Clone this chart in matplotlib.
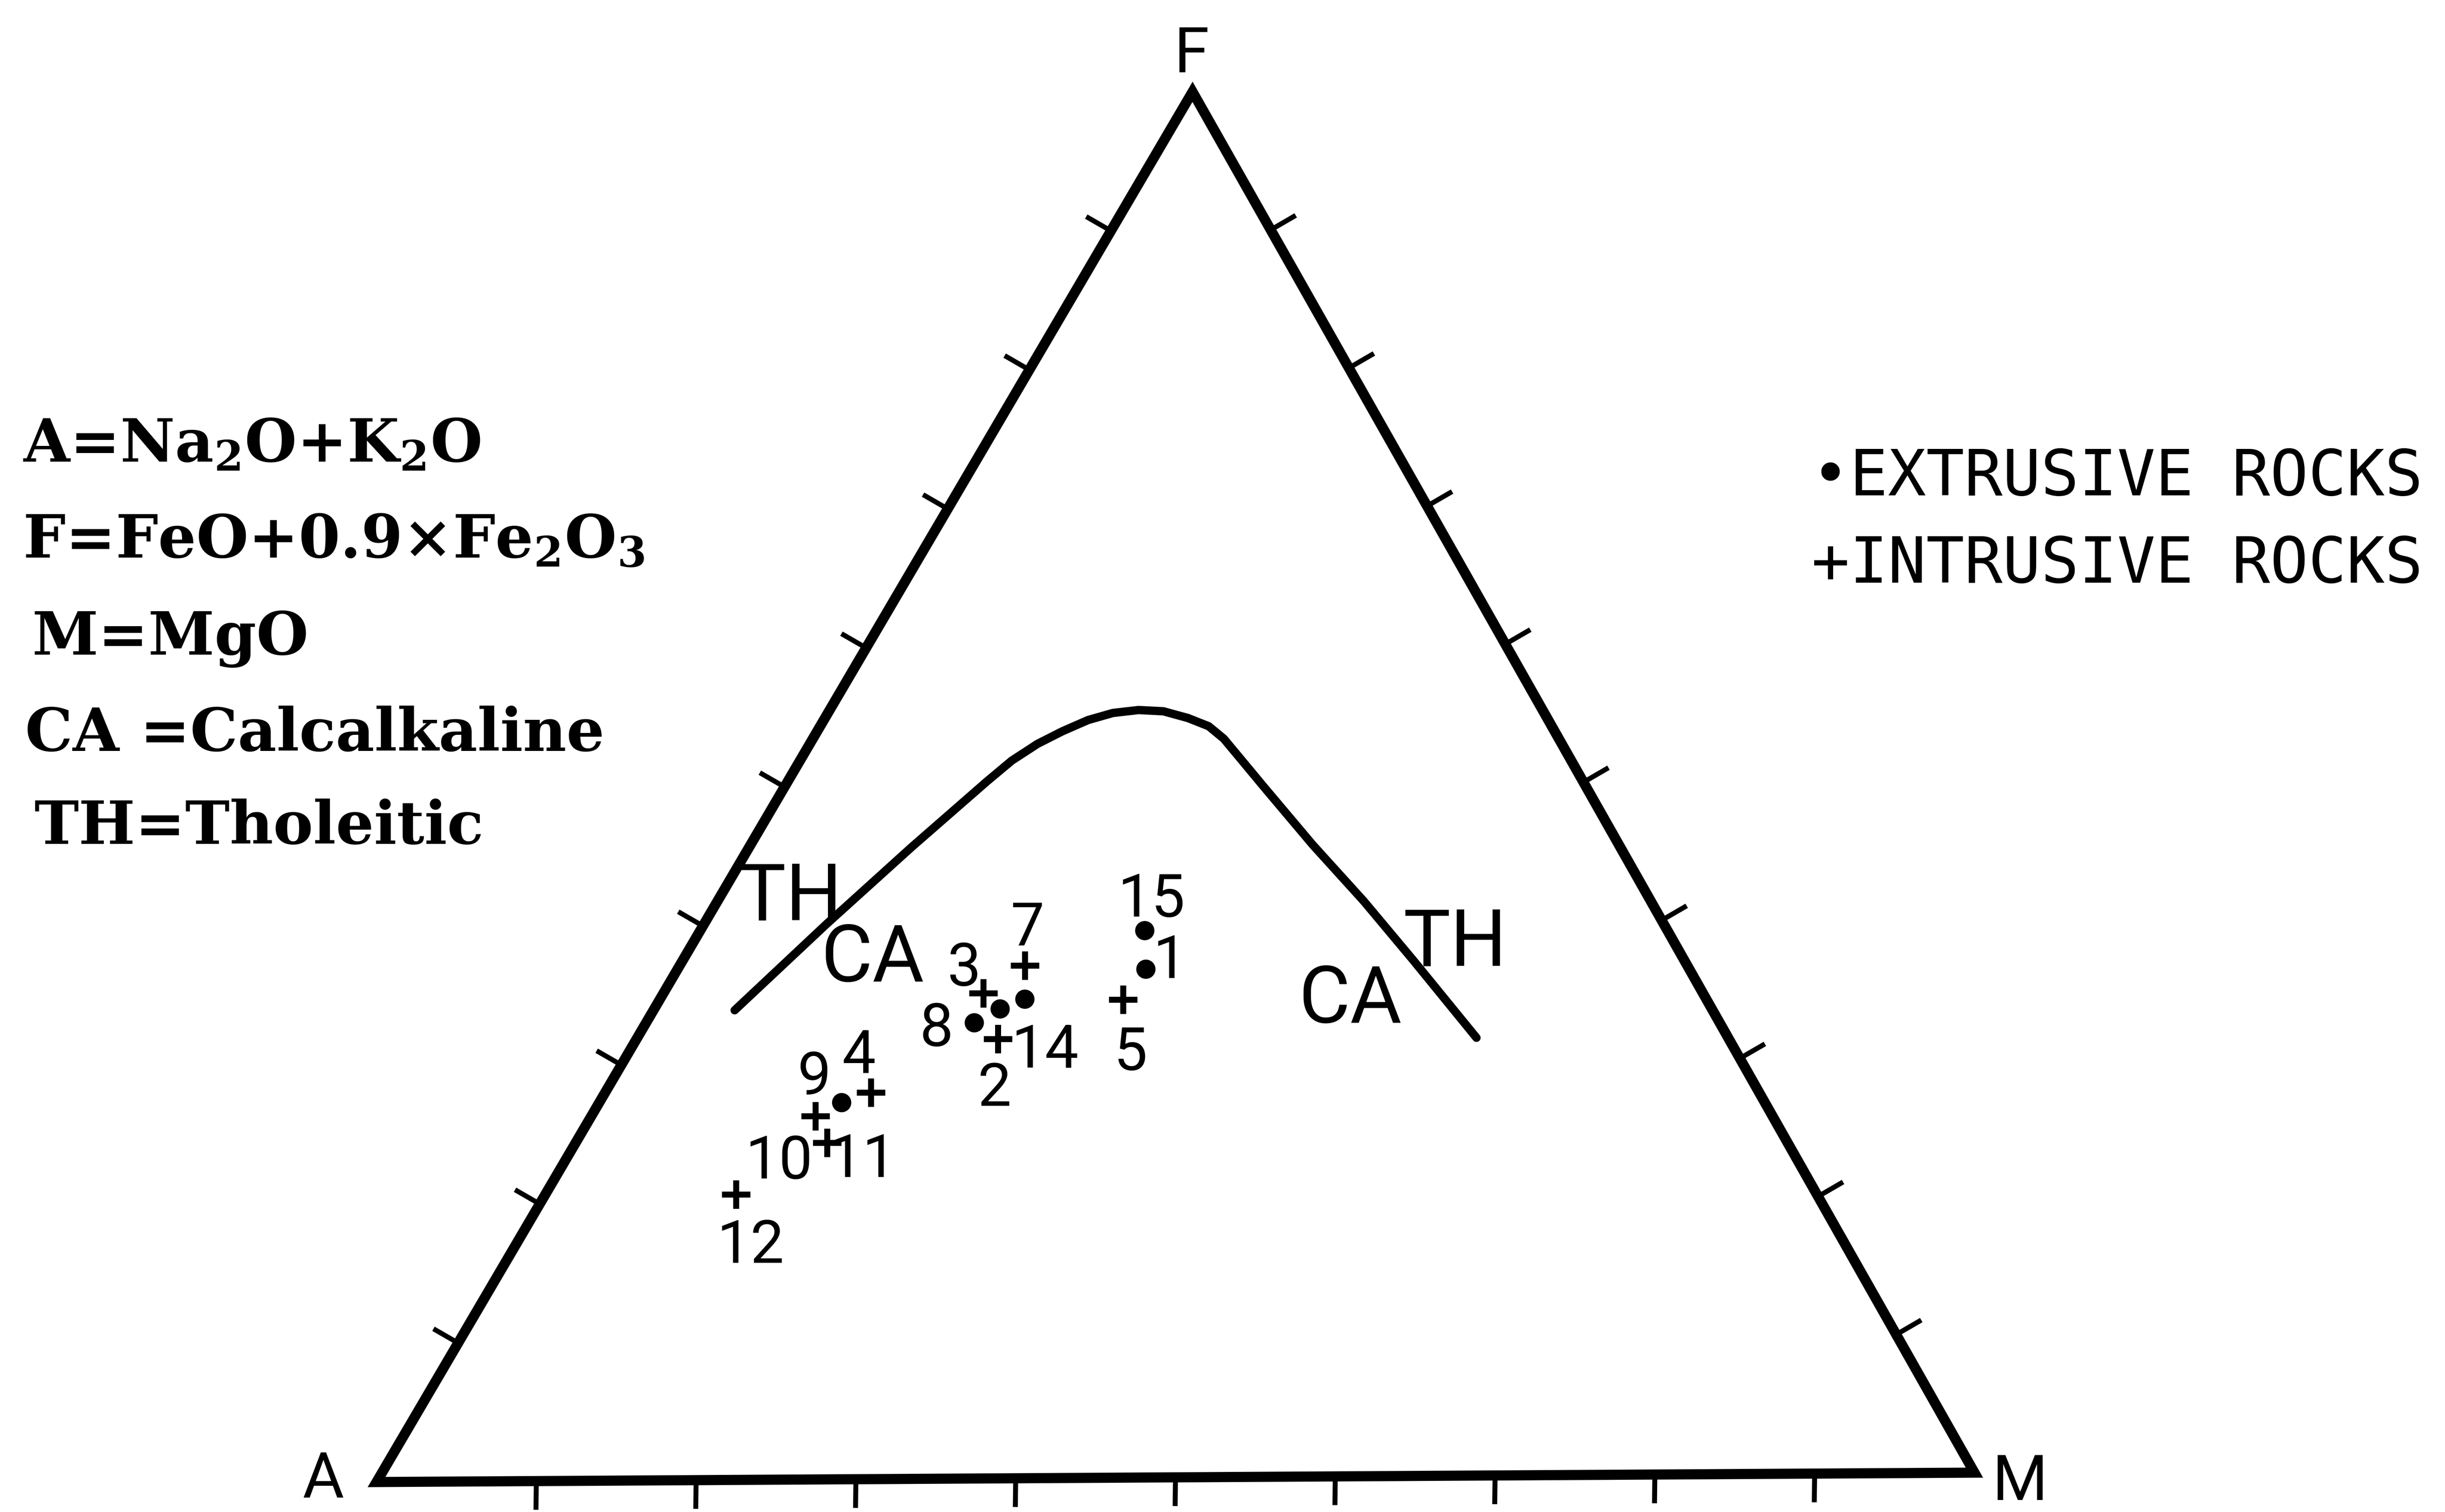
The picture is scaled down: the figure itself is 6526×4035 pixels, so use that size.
import numpy as np
import matplotlib
matplotlib.use('Agg')
import matplotlib.pyplot as plt
from matplotlib.patches import Polygon
from matplotlib.transforms import Affine2D

# AFM ternary diagram: samples (% A, F, M)
sample_label = ['1', '2', '3', '4', '5', '', '7', '8', '9', '10', '11', '12', '14', '15']
rock_kind = ['E', 'I', 'I', 'I', 'I', 'E', 'I', 'E', 'E', 'I', 'I', 'I', 'E', 'E']  # E extrusive, I intrusive
A_pct = [33.9, 45.6, 44.9, 55.4, 36.4, 44.4, 41.3, 46.5, 57.6, 59.7, 59.9, 67.4, 42.5, 32.6]
F_pct = [36.7, 31.7, 35.0, 27.9, 34.5, 33.9, 37.0, 32.9, 27.2, 26.2, 24.3, 20.6, 34.6, 39.5]
M_pct = [29.4, 22.7, 20.1, 16.7, 29.1, 21.7, 21.7, 20.6, 15.2, 14.1, 15.8, 12.0, 22.9, 27.9]

# tholeiitic / calc-alkaline boundary
curve_A = [61.0, 52.2, 44.2, 37.2, 34.9, 32.7, 30.7, 28.7, 26.9, 25.2,
           23.7, 22.4, 21.4, 20.9, 20.6, 20.1, 19.1, 17.9, 16.9, 15.7]
curve_F = [33.9, 40.1, 45.6, 50.3, 51.8, 53.0, 53.9, 54.7, 55.2, 55.4,
           55.3, 54.8, 54.2, 53.3, 52.0, 49.8, 45.6, 41.5, 37.2, 31.6]
curve_M = [5.1, 7.7, 10.2, 12.5, 13.3, 14.3, 15.4, 16.6, 17.9, 19.4,
           21.0, 22.8, 24.4, 25.8, 27.4, 30.1, 35.3, 40.6, 45.9, 52.7]

tick_frac = [0.1, 0.2, 0.3, 0.4, 0.5, 0.6, 0.7, 0.8, 0.9]

legend_left = [r'A=Na$_2$O+K$_2$O', r'F=FeO+0.9×Fe$_2$O$_3$', 'M=MgO',
               'CA =Calcalkaline', 'TH=Tholeitic']
legend_right = ['•EXTRUSIVE ROCKS', '+INTRUSIVE ROCKS']

# label placement relative to the marker, pixels (right, down)
label_shift = {'1': (64, 24), '2': (-9, 178), '3': (-51, -21), '4': (-32, -52),
               '5': (20, 187), '7': (6, -54), '8': (-101, 62), '9': (-73, -21),
               '10': (-98, 166), '11': (94, 91), '12': (38, 182), '14': (54, 183),
               '15': (18, -37)}

W, H, DPI = 6526, 4035, 100
lettering = ['Roboto', 'DejaVu Sans']
plt.rcParams['mathtext.default'] = 'regular'

SQ3 = np.sqrt(3) / 2


def to_xy(a, f, m):
    a, f, m = np.asarray(a, float), np.asarray(f, float), np.asarray(m, float)
    s = a + f + m
    return (m + f / 2) / s, (f * SQ3) / s


fig = plt.figure(figsize=(W / DPI, H / DPI), dpi=DPI)
ax = fig.add_axes([0, 0, 1, 1])
ax.set_xlim(0, W)
ax.set_ylim(H, 0)
ax.axis('off')

# triangle corners on the page (pixels), unit triangle -> page
A_px = np.array([1005., 3955.])
M_px = np.array([5270., 3930.])
F_px = np.array([3183., 245.])
e1 = M_px - A_px
e2 = (F_px - A_px - 0.5 * e1) / SQ3
tern = Affine2D.from_values(e1[0], e1[1], e2[0], e2[1], A_px[0], A_px[1]) + ax.transData

ax.add_patch(Polygon([(0, 0), (1, 0), (0.5, SQ3)], closed=True, fill=False,
                     ec='black', lw=19.5, joinstyle='miter', transform=tern))

L = 70 / 4267
for t in tick_frac:
    ax.plot([t, t], [0, -L], c='k', lw=9.5, transform=tern)
    x0, y0 = 0.5 * t, SQ3 * t
    ax.plot([x0, x0 - SQ3 * L], [y0, y0 + 0.5 * L], c='k', lw=9.5, transform=tern)
    x0, y0 = 1 - 0.5 * t, SQ3 * t
    ax.plot([x0, x0 + SQ3 * L], [y0, y0 + 0.5 * L], c='k', lw=9.5, transform=tern)

cx, cy = to_xy(curve_A, curve_F, curve_M)
ax.plot(cx, cy, c='k', lw=16, solid_capstyle='round', solid_joinstyle='round',
        transform=tern)

px, py = to_xy(A_pct, F_pct, M_pct)
kind = np.array(rock_kind)
ext = kind == 'E'
ax.plot(px[ext], py[ext], ls='none', marker='o', ms=37, mew=0, c='k', transform=tern)
ax.plot(px[~ext], py[~ext], ls='none', marker='+', ms=55, mew=11.5, c='k', transform=tern)

for lab, x, y in zip(sample_label, px, py):
    if not lab:
        continue
    dx, dy = label_shift[lab]
    ax.annotate(lab, xy=(x, y), xycoords=tern, xytext=(dx, -dy),
                textcoords='offset pixels', ha='center', va='baseline',
                fontsize=115, family=lettering)

# field and apex labels
for s, x, y in [('TH', 2110, 2455), ('CA', 2329, 2619), ('CA', 3604, 2729), ('TH', 3884, 2577)]:
    ax.text(x, y, s, ha='center', va='baseline', fontsize=152, family=lettering)
for s, x, y in [('F', 3181, 193), ('A', 863, 3995), ('M', 5392, 4003)]:
    ax.text(x, y, s, ha='center', va='baseline', fontsize=122, family=lettering)

for s, x, y in zip(legend_left, [61, 61, 85, 67, 91], [1232, 1489, 1747, 2004, 2252]):
    ax.text(x, y, s, ha='left', va='baseline', fontsize=115,
            family='DejaVu Serif', fontweight='bold')

for s, y in zip(legend_right, [1322, 1555]):
    ax.text(4835, y, s, ha='left', va='baseline', fontsize=122, family='DejaVu Sans Mono')

fig.savefig('out.png', dpi=DPI)
